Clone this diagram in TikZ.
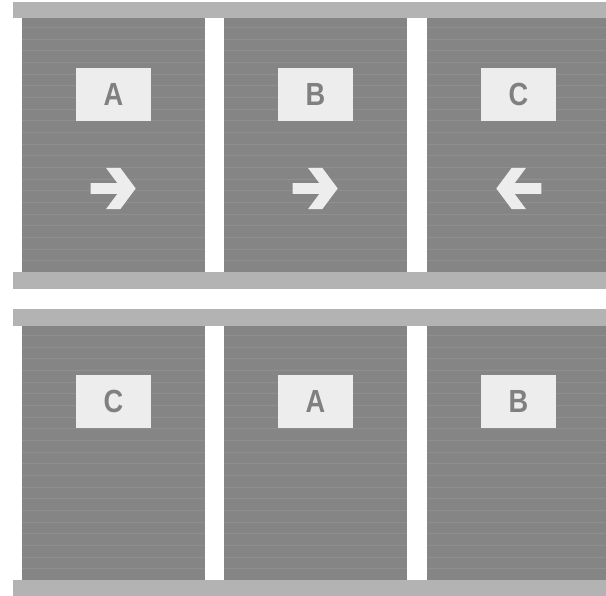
\documentclass[tikz,border=0pt]{standalone}
\usepackage{fontspec}
\newfontfamily\labfont{Liberation Sans}
\definecolor{panelgray}{HTML}{858585}
\definecolor{stripegray}{HTML}{8F8F8F}
\definecolor{bargray}{HTML}{B3B3B3}
\definecolor{boxfill}{HTML}{EDEDED}
\definecolor{labgray}{HTML}{808080}
\begin{document}
\begin{tikzpicture}[x=1bp,y=-1bp,
  bar/.style={fill=bargray},
  panel/.style={fill=panelgray},
  stripe/.style={draw=stripegray,line width=1bp},
  labelbox/.style={fill=boxfill,minimum width=75bp,minimum height=53bp,inner sep=0pt,text=labgray,font=\labfont\bfseries\fontsize{32bp}{32bp}\selectfont},
  arrowshape/.style={fill=boxfill}]
\clip (0,0) rectangle (606,596);
\fill[white] (0,0) rectangle (606,596);
% panels with stripes
\foreach \t in {18,326}{
  \foreach \x in {22,224,427}{
    \fill[panel] (\x,\t) rectangle (\x+183,\t+254);
    \foreach \k in {0,...,20}{
      \draw[stripe] (\x,{\t+9.5+round(11.667*\k)}) -- ++(183,0);
    }
  }
}
% bars
\fill[bar] (13,2) rectangle (606,18);
\fill[bar] (13,272) rectangle (606,289);
\fill[bar] (13,309) rectangle (606,326);
\fill[bar] (13,580) rectangle (606,596);
% labels
\node[labelbox] (ta) at (113.5,94.5) {\scalebox{0.85}[1]{A}};
\node[labelbox] (tb) at (315.5,94.5) {\scalebox{0.85}[1]{B}};
\node[labelbox] (tc) at (518.5,94.5) {\scalebox{0.85}[1]{C}};
\node[labelbox] (bc) at (113.5,401.5) {\scalebox{0.85}[1]{C}};
\node[labelbox] (ba) at (315.5,401.5) {\scalebox{0.85}[1]{A}};
\node[labelbox] (bb) at (518.5,401.5) {\scalebox{0.85}[1]{B}};
% arrows
\def\arrowpath{(-22.5,-5.3) -- (4.2,-5.3) -- (-7.1,-20.5) -- (7.2,-20.5) -- (22.5,0) -- (7.2,20.5) -- (-7.1,20.5) -- (4.2,5.3) -- (-22.5,5.3) -- cycle}
\begin{scope}[shift={(113.2,188.5)}]
  \fill[arrowshape] \arrowpath;
\end{scope}
\begin{scope}[shift={(315.2,188.5)}]
  \fill[arrowshape] \arrowpath;
\end{scope}
\begin{scope}[shift={(518.8,188.5)},xscale=-1]
  \fill[arrowshape] \arrowpath;
\end{scope}
\end{tikzpicture}
\end{document}
